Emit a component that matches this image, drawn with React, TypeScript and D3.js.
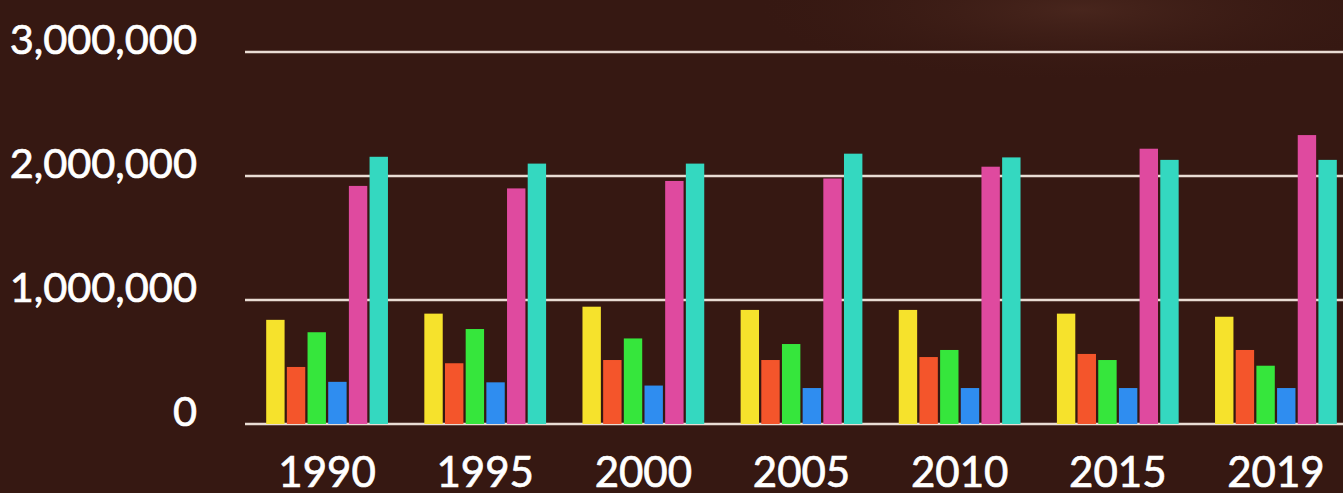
import React from "react";
import * as d3 from "d3";

const years = ["1990", "1995", "2000", "2005", "2010", "2015", "2019"];
const seriesNames = ["s1", "s2", "s3", "s4", "s5", "s6"];
const s1 = [840000, 890000, 946000, 920000, 920000, 890000, 865000];
const s2 = [460000, 490000, 516000, 516000, 540000, 565000, 597000];
const s3 = [740000, 766000, 690000, 645000, 597000, 516000, 470000];
const s4 = [340000, 336000, 310000, 290000, 290000, 290000, 290000];
const s5 = [1920000, 1900000, 1960000, 1980000, 2075000, 2220000, 2330000];
const s6 = [2155000, 2100000, 2100000, 2180000, 2150000, 2130000, 2130000];
const seriesValues = [s1, s2, s3, s4, s5, s6];
const colors = ["#f6e22c", "#f4552b", "#36e63c", "#2f8df0", "#df4a9f", "#34d8c0"];
const yTicks = [0, 1000000, 2000000, 3000000];

const W = 1343;
const H = 493;

export default function App() {
  const x = d3.scaleBand().domain(years).range([248, 1355]).paddingInner(0.23).paddingOuter(0.115);
  const xi = d3.scaleBand().domain(seriesNames).range([0, x.bandwidth()]).paddingInner(0.11);
  const y = d3.scaleLinear().domain([0, 3000000]).range([424, 52]);
  const fmt = d3.format(",");
  return (
    <svg width={W} height={H} style={{ position: "fixed", left: 0, top: 0, display: "block" }}>
      <defs>
        <radialGradient id="glow" cx="0.5" cy="0.5" r="0.5">
          <stop offset="0" stopColor="#4a271e" stopOpacity="0.9" />
          <stop offset="1" stopColor="#3a1b14" stopOpacity="0" />
        </radialGradient>
      </defs>
      <rect x={0} y={0} width={W} height={H} fill="#361812" />
      <ellipse cx={1080} cy={10} rx={320} ry={70} fill="url(#glow)" />
      {yTicks.map((t) => (
        <g key={t}>
          <line x1={245} x2={W} y1={y(t)} y2={y(t)} stroke="#e9dcd4" strokeWidth={2.5} />
          <text
            x={197}
            y={y(t) - 9}
            textAnchor="end"
            dominantBaseline="middle"
            fill="#ffffff"
            stroke="#ffffff"
            strokeWidth={0.7}
            fontFamily="Lato"
            fontSize={41.5}
          >
            {fmt(t)}
          </text>
        </g>
      ))}
      {years.map((yr, i) => (
        <g key={yr} transform={`translate(${x(yr)},0)`}>
          {seriesNames.map((s, j) => (
            <rect
              key={s}
              x={xi(s)}
              y={y(seriesValues[j][i])}
              width={xi.bandwidth()}
              height={y(0) - y(seriesValues[j][i])}
              fill={colors[j]}
            />
          ))}
        </g>
      ))}
      {years.map((yr) => (
        <text
          key={yr}
          x={(x(yr) as number) + x.bandwidth() / 2}
          y={487}
          textAnchor="middle"
          fill="#ffffff"
          stroke="#ffffff"
          strokeWidth={0.7}
          fontFamily="Lato"
          fontSize={42}
        >
          {yr}
        </text>
      ))}
    </svg>
  );
}
